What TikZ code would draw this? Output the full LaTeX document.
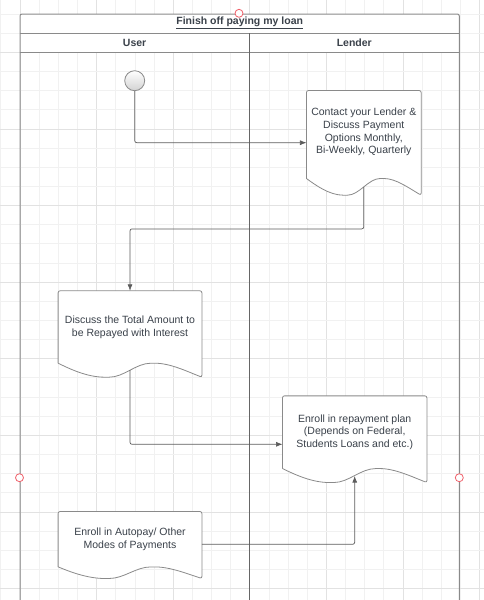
\documentclass[tikz,border=0pt]{standalone}
\usepackage{fontspec}
\setmainfont{Liberation Sans}
\usepackage{xcolor}
\usepackage{tikz}
\usetikzlibrary{shapes,arrows.meta,positioning,calc}
\definecolor{lucidtext}{HTML}{3A414A}
\definecolor{lucidline}{HTML}{8A8A8A}
\definecolor{lucidarrow}{HTML}{5C5C5C}
\definecolor{gridlight}{HTML}{F1F1F1}
\definecolor{griddark}{HTML}{E2E2E2}
\definecolor{handlered}{HTML}{F0606A}
% outline of a document shape around node #1, wave depth #2
\newcommand{\docoutline}[2]{%
  \draw[docline] (#1.south west) -- (#1.north west) -- (#1.north east) -- ($(#1.south east)+(0,#2)$)
    .. controls ($(#1.south west)!0.9!(#1.south east)+(0,0.6*#2)$) and ($(#1.south west)!0.78!(#1.south east)$) .. ($(#1.south west)!0.66!(#1.south east)$)
    .. controls ($(#1.south west)!0.54!(#1.south east)$) and ($(#1.south west)!0.46!(#1.south east)+(0,#2)$) .. ($(#1.south west)!0.34!(#1.south east)+(0,#2)$)
    .. controls ($(#1.south west)!0.2!(#1.south east)+(0,#2)$) and ($(#1.south west)!0.08!(#1.south east)+(0,0.4*#2)$) .. (#1.south west);}

\begin{document}
\begin{tikzpicture}[x=1pt, y=-1pt, >={Latex[length=6.5pt,width=5pt]}, font=\fontsize{10.5}{12.67}\selectfont]
        % Styles
        \tikzstyle{doc} = [rectangle, inner sep=0pt, text=lucidtext, align=center]
        \tikzstyle{docline} = [draw=lucidline, line width=0.8pt, rounded corners=2pt, fill=white]
        \tikzstyle{pool} = [draw=lucidline, line width=1pt, rounded corners=2pt]
        \tikzstyle{lane} = [draw=black!60, line width=0.9pt]
        \tikzstyle{header} = [text=lucidtext, font=\bfseries\fontsize{10.5}{12}\selectfont]
        \tikzstyle{startnode} = [circle, draw=lucidline, line width=0.8pt, top color=white, bottom color=gray!35, minimum size=20pt, inner sep=0pt]
        \tikzstyle{handle} = [draw=handlered, fill=white, line width=0.8pt]
        \tikzstyle{line} = [draw=lucidarrow, line width=0.7pt, ->, rounded corners=2pt]

        \useasboundingbox (0,0) rectangle (484,600);

        % Grid
        \foreach \k in {-1,...,24} {
            \pgfmathtruncatemacro{\m}{mod(\k+4,4)}
            \ifnum\m=0 \def\gc{griddark}\else \def\gc{gridlight}\fi
            \draw[\gc, line width=0.8pt] ({20+19.15*\k},0) -- ({20+19.15*\k},600);
        }
        \foreach \k in {-1,...,30} {
            \pgfmathtruncatemacro{\m}{mod(\k+4,4)}
            \ifnum\m=2 \def\gc{griddark}\else \def\gc{gridlight}\fi
            \draw[\gc, line width=0.8pt] (0,{14+19.15*\k}) -- (484,{14+19.15*\k});
        }

        % Pool
        \fill[white] (20,14) rectangle (459.3,52.7);
        \draw[pool] (20,601) -- (20,14) -- (459.3,14) -- (459.3,601);
        \draw[pool] (20,33.3) -- (459.3,33.3);
        \draw[pool] (20,52.7) -- (459.3,52.7);
        \draw[lane] (249.3,33.3) -- (249.3,601);

        \node [header] (title) at (239.7,23) {\underline{Finish off paying my loan}};
        \node [header] (user) at (134.6,43) {User};
        \node [header] (lender) at (354.3,43) {Lender};

        % Nodes
        \node [startnode] (start) at (134.7,80.7) {};
        \node [doc, minimum width=114.3pt, minimum height=87.6pt] (contact) at (363.8,134.5) {};
        \node [doc, minimum width=143.4pt, minimum height=72pt] (discuss) at (130,327) {};
        \node [doc, minimum width=144pt, minimum height=72.3pt] (enroll) at (354.7,432.2) {};
        \node [doc, minimum width=143.4pt, minimum height=55pt] (autopay) at (130,539.2) {};

        \docoutline{contact}{16.7}
        \docoutline{discuss}{14}
        \docoutline{enroll}{14}
        \docoutline{autopay}{11.6}

        \node [doc] at ($(contact)+(0,-2.5)$) {Contact your Lender \&\\Discuss Payment\\Options Monthly,\\Bi-Weekly, Quarterly};
        \node [doc] at (discuss) {Discuss the Total Amount to\\be Repayed with Interest};
        \node [doc] at (enroll) {Enroll in repayment plan\\(Depends on Federal,\\Students Loans and etc.)};
        \node [doc] at (autopay) {Enroll in Autopay/ Other\\Modes of Payments};

        \coordinate (contactwave) at ($(contact.south)+(0,8.4)$);
        \coordinate (discusswave) at ($(discuss.south)+(0,7)$);
        \coordinate (enrollwave) at ($(enroll.south)+(0,7.5)$);

        % Edges
        \path [line] (start) |- ($(contact.west)+(0,8.2)$);
        \path [line] (contactwave) -- ++(0,42) -| (discuss.north);
        \path [line] (discusswave) |- ($(enroll.west)+(0,12.1)$);
        \path [line] ($(autopay.east)+(0,5.1)$) -| (enrollwave);

        % Handles
        \draw [handle] (239,13.3) circle (4pt);
        \draw [handle] (19.5,477.7) circle (4pt);
        \draw [handle] (459.3,477.7) circle (4pt);
\end{tikzpicture}
\end{document}
